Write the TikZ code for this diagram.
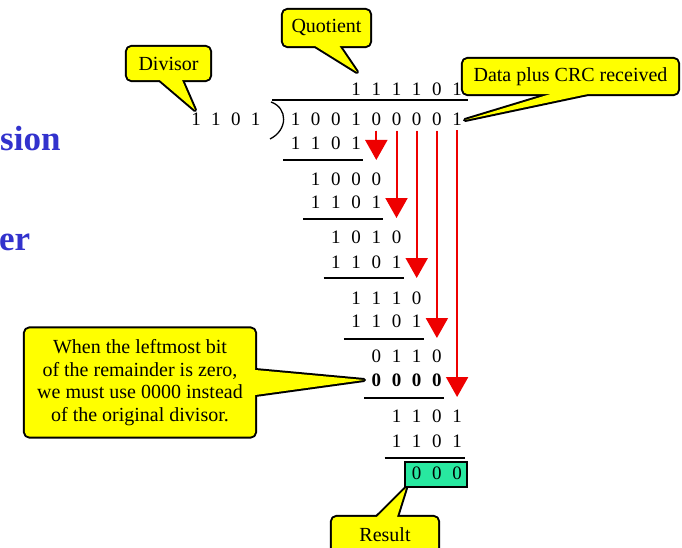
\documentclass[tikz,border=0pt]{standalone}
\usepackage{fontspec}
\setmainfont{Liberation Serif}
\usetikzlibrary{arrows.meta,backgrounds}

\definecolor{noteyellow}{RGB}{255,255,0}
\definecolor{remaindergreen}{RGB}{40,232,160}
\definecolor{headingblue}{RGB}{50,50,205}
\definecolor{flowred}{RGB}{238,0,0}

\tikzset{
  bit/.style={inner sep=0pt, font=\fontsize{19}{22}\selectfont},
  boldbit/.style={inner sep=0pt, font=\fontsize{19}{22}\selectfont\bfseries},
  rulebar/.style={line width=1.3pt},
  flow/.style={draw=flowred, fill=flowred, line width=2pt, -{Triangle[width=22pt,length=20pt]}},
  notetext/.style={inner sep=0pt, align=center, font=\fontsize{20}{22.5}\selectfont},
  noteedge/.style={line width=4pt, line join=round},
  notefill/.style={fill=noteyellow},
  resultbox/.style={draw, line width=2pt, fill=remaindergreen, inner sep=0pt},
  heading/.style={text=headingblue, font=\fontsize{35}{40}\selectfont\bfseries, inner sep=0pt, anchor=base west},
}

% one row of bits, placed on the common column grid
\newcommand\bits[5][bit]{%
  \foreach \b [count=\k from #4] in {#5} {\node[#1] (#2-\k) at ({295.5+20.2*\k},#3) {\b};}}

% subtraction rule under a row, shifted by column
\newcommand\subline[2]{\draw[rulebar] ({283+20.3*#1},#2) -- ({363+20.3*#1},#2);}

% yellow speech bubble: box of node #1, tail from base points #2,#3 to tip #4
\newcommand\noteshape[4]{%
  \draw[noteedge, rounded corners=5pt] (#1.south west) rectangle (#1.north east);
  \draw[noteedge] #2 -- (#4) -- #3 -- cycle;
  \fill[notefill, rounded corners=5pt] (#1.south west) rectangle (#1.north east);
  \fill[notefill] #2 -- (#4) -- #3 -- cycle;
}

\begin{document}
\begin{tikzpicture}[x=1pt,y=-1pt]
\useasboundingbox (0,0) rectangle (682,548);
\clip (0,0) rectangle (682,548);

% heading fragments
\node[heading] (headA) at (0,151) {sion};
\node[heading] (headB) at (-1,250) {er};

% divisor
\foreach \d [count=\k from 0] in {1,1,0,1} {
  \node[bit] (dvs-\k) at ({196+19.9*\k},119) {\d};
}
\draw[rulebar] (272,100) -- (468,100);
\draw[rulebar] (271,102) .. controls (288,108) and (288,130) .. (270,139);

% quotient, dividend and the successive steps
\bits{quo}{89}{3}{1,1,1,1,0,1}
\bits{dvd}{119}{0}{1,0,0,1,0,0,0,0,1}
\bits{sa}{143}{0}{1,1,0,1}
\subline{0}{160}
\bits{ra}{179}{1}{1,0,0,0}
\bits{sb}{202.5}{1}{1,1,0,1}
\subline{1}{219}
\bits{rb}{237.5}{2}{1,0,1,0}
\bits{sc}{262}{2}{1,1,0,1}
\subline{2}{278}
\bits{rc}{298.5}{3}{1,1,1,0}
\bits{sd}{321.5}{3}{1,1,0,1}
\subline{3}{339}
\bits{rd}{356.5}{4}{0,1,1,0}
\bits[boldbit]{se}{380}{4}{0,0,0,0}
\subline{4}{398}
\bits{re}{416.5}{5}{1,1,0,1}
\bits{sf}{441.5}{5}{1,1,0,1}
\subline{5}{458}

% remainder
\node[resultbox, minimum width=62pt, minimum height=25pt] (rbox) at (436,474.5) {};
\bits{rem}{473.5}{6}{0,0,0}

% bring-down arrows
\foreach \k/\ty in {4/160, 5/218, 6/278, 7/338, 8/397} {
  \coordinate (tip-\k) at ({295.5+20.2*\k},\ty);
  \draw[flow] ([yshift=-5pt]dvd-\k.south) -- (tip-\k);
}

% callout texts
\node[notetext, minimum width=87pt, minimum height=36pt] (quotnote) at (326.5,28) {Quotient};
\node[notetext, minimum width=83pt, minimum height=33pt] (divnote) at (168.5,63.5) {Divisor};
\node[notetext, minimum width=215pt, minimum height=35pt] (datanote) at (570.5,76.5) {Data plus CRC received};
\node[notetext, minimum width=230pt, minimum height=108pt] (zeronote) at (140,382.5)
  {When the leftmost bit\\of the remainder is zero,\\we must use 0000 instead\\of the original divisor.};
\node[notetext, minimum width=106pt, minimum height=36pt] (resnote) at (385,535) {Result};

\coordinate (quot-tip) at (357,72);
\coordinate (div-tip) at (195,110);
\coordinate (data-tip) at (465,120);
\coordinate (zero-tip) at (364,380);
\coordinate (res-tip) at ([xshift=2pt]rbox.south west);

\begin{scope}[on background layer]
  \clip (0,0) rectangle (682,548);
  \noteshape{quotnote}{([xshift=-11pt]quotnote.south)}{([xshift=13pt]quotnote.south)}{quot-tip}
  \noteshape{divnote}{([xshift=-8.5pt]divnote.south)}{([xshift=13.5pt]divnote.south)}{div-tip}
  \noteshape{datanote}{([xshift=-20.5pt]datanote.south)}{([xshift=16.5pt]datanote.south)}{data-tip}
  \noteshape{zeronote}{([yshift=12.5pt]zeronote.east)}{([yshift=-12.5pt]zeronote.east)}{zero-tip}
  \noteshape{resnote}{([xshift=-8pt]resnote.north)}{([xshift=12pt]resnote.north)}{res-tip}
\end{scope}
\end{tikzpicture}
\end{document}
